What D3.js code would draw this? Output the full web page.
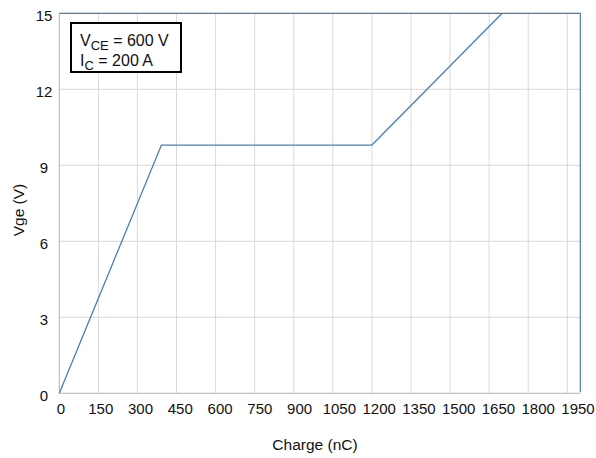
<!DOCTYPE html>
<html><head><meta charset="utf-8">
<script src="https://cdn.jsdelivr.net/npm/d3@7"></script>
<style>
html,body{margin:0;padding:0;background:#fff;}
text{font-family:"Liberation Sans",Arial,Helvetica,sans-serif;fill:#111;}
</style></head>
<body><svg id="c" width="596" height="458"></svg>
<script>
const charge = [0, 392, 1200, 1700];
const vge = [0, 9.8, 9.8, 15];
const xTicks = [0,150,300,450,600,750,900,1050,1200,1350,1500,1650,1800,1950];
const yTicks = [0,3,6,9,12,15];
const legendLines = [["V","CE"," = 600 V"],["I","C"," = 200 A"]];

const svg = d3.select("#c");
const L = 59.3, R = 580.3, T = 13.3, B = 393.3;
const x = d3.scaleLinear().domain([0,2000]).range([L,R]);
const xLab = d3.scaleLinear().domain([0,1950]).range([61,578]);
const y = d3.scaleLinear().domain([0,15]).range([B,T]);

// grid
svg.append("g").selectAll("line").data(xTicks.filter(d=>d>0)).join("line")
  .attr("x1",d=>x(d)).attr("x2",d=>x(d)).attr("y1",T).attr("y2",B)
  .attr("stroke","#d9d9d9").attr("stroke-width",1);
svg.append("g").selectAll("line").data(yTicks.filter(d=>d>0)).join("line")
  .attr("x1",L).attr("x2",R).attr("y1",d=>y(d)).attr("y2",d=>y(d))
  .attr("stroke","#d9d9d9").attr("stroke-width",1);

// axes lines
svg.append("line").attr("x1",L).attr("x2",L).attr("y1",T).attr("y2",B).attr("stroke","#b3b3b3");
svg.append("line").attr("x1",L).attr("x2",R).attr("y1",B).attr("y2",B).attr("stroke","#b3b3b3");
// frame top/right
svg.append("path").attr("d",`M${L},${T}H${R}V${B-1}`).attr("fill","none").attr("stroke","#4a7ebb").attr("stroke-width",1.2);

// tick labels
svg.append("g").selectAll("text").data(xTicks).join("text")
  .attr("x",d=>xLab(d)).attr("y",413.5).attr("text-anchor","middle")
  .attr("font-size",15).text(d=>d);
svg.append("g").selectAll("text").data(yTicks).join("text")
  .attr("x",44).attr("y",d=>y(d)+7.2).attr("text-anchor","middle")
  .attr("font-size",15).text(d=>d);

// line
const pts = charge.map((c,i)=>[c,vge[i]]);
svg.append("path").datum(pts)
  .attr("d",d3.line().x(d=>x(d[0])).y(d=>y(d[1])))
  .attr("fill","none").attr("stroke","#4a7ebb").attr("stroke-width",1.3);

// titles
svg.append("text").attr("x",315).attr("y",450).attr("text-anchor","middle").attr("font-size",15.5).text("Charge (nC)");
svg.append("text").attr("transform","translate(24,210) rotate(-90)").attr("text-anchor","middle").attr("font-size",15.5).text("Vge (V)");

// legend
svg.append("rect").attr("x",71).attr("y",23).attr("width",110).attr("height",49)
  .attr("fill","#fff").attr("stroke","#000").attr("stroke-width",2);
legendLines.forEach((l,i)=>{
  const t = svg.append("text").attr("x",80).attr("y",46+i*19.5).attr("font-size",16);
  t.append("tspan").text(l[0]);
  t.append("tspan").attr("dy",4).attr("font-size",13).text(l[1]);
  t.append("tspan").attr("dy",-4).text(l[2]);
});
</script></body></html>
